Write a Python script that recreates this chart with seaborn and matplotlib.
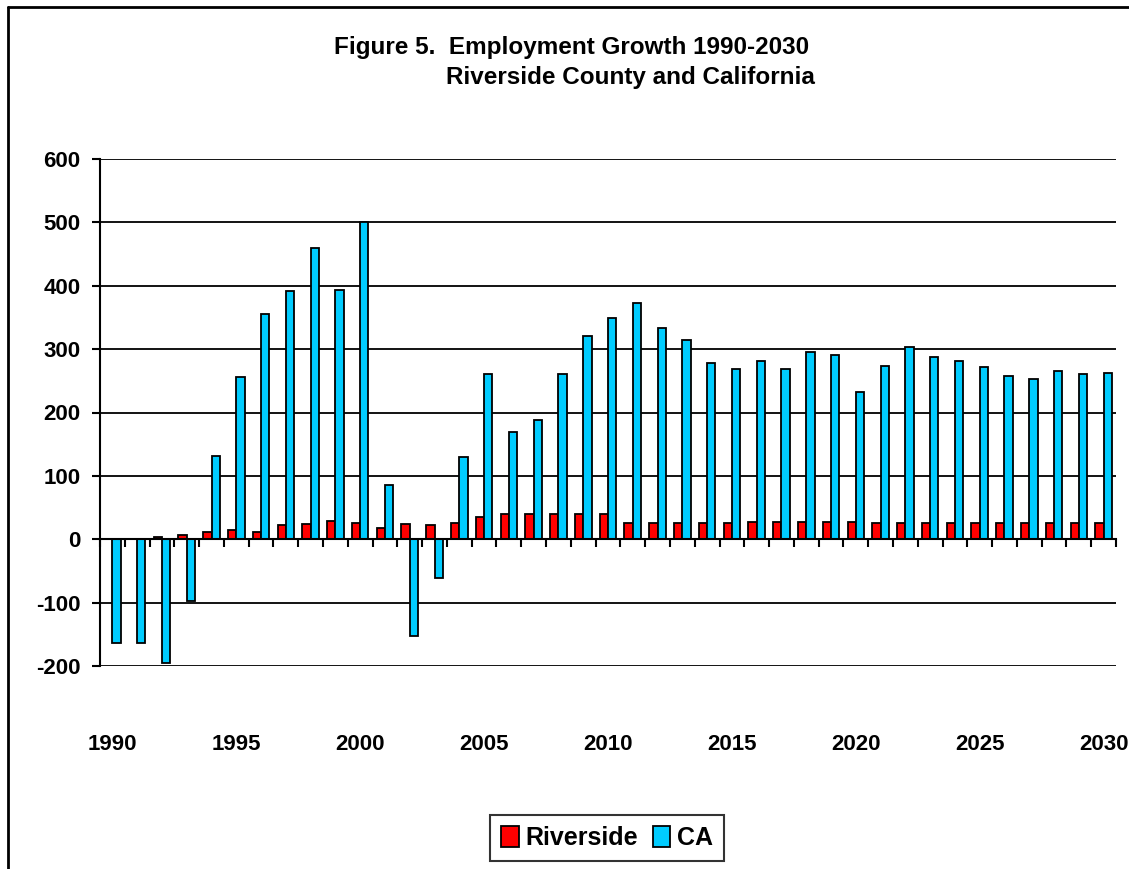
import matplotlib
matplotlib.use("Agg")
import matplotlib.pyplot as plt
from matplotlib.lines import Line2D
from matplotlib.patches import Patch
import matplotlib.transforms as mtransforms
import numpy as np
import pandas as pd
import seaborn as sns

# Annual employment change (thousands of jobs)
years = [str(y) for y in range(1990, 2031)]
riverside = [1, 1, 3, 7, 11, 14, 12, 23, 24, 29, 25, 18, 24, 22,
             26, 35, 40, 40, 40, 40, 40, 26, 26, 26, 26, 26, 27,
             27, 27, 27, 27, 26, 26, 26, 26, 26, 26, 26, 26, 26, 26]
ca = [-163, -163, -196, -98, 132, 256, 356, 391, 460, 394, 501, 85, -152, -61,
      130, 261, 169, 188, 260, 320, 349, 373, 333, 314, 278, 269, 281,
      269, 295, 290, 233, 273, 304, 287, 282, 272, 258, 253, 265, 261, 263]
series_names = ["Riverside", "CA"]
series_colors = ["#FF0000", "#00CCFF"]
year_labels = ["1990", "1995", "2000", "2005", "2010", "2015", "2020", "2025", "2030"]
y_ticks = [-200, -100, 0, 100, 200, 300, 400, 500, 600]
title_lines = ["Figure 5.  Employment Growth 1990-2030", "Riverside County and California"]

df = pd.DataFrame({
    "year": years * 2,
    "value": riverside + ca,
    "series": [series_names[0]] * len(years) + [series_names[1]] * len(years),
})

sns.set_theme(style="white")
plt.rcParams["font.family"] = ["Liberation Sans", "DejaVu Sans"]
plt.rcParams["font.weight"] = "bold"
plt.rcParams["text.color"] = "black"
plt.rcParams["xtick.color"] = "black"
plt.rcParams["ytick.color"] = "black"

W, H = 1129, 869
fig = plt.figure(figsize=(W / 100, H / 100), dpi=100)
ax = fig.add_axes([100 / W, 1 - 666 / H, (1116 - 100) / W, (666 - 159) / H])

sns.barplot(data=df, x="year", y="value", hue="series", order=years,
            hue_order=series_names, palette=series_colors, width=0.67,
            edgecolor="black", linewidth=1.3, saturation=1, legend=False, ax=ax)

ax.set_xlim(-0.5, len(years) - 0.5)
ax.set_ylim(y_ticks[0], y_ticks[-1])
ax.set_xlabel("")
ax.set_ylabel("")

# Horizontal gridlines
for v in y_ticks:
    ax.axhline(v, color="black", linewidth=1.3, zorder=0.5)

# Spines: left value axis, category axis crossing at zero
for side in ["top", "right"]:
    ax.spines[side].set_visible(False)
ax.spines["left"].set_color("black")
ax.spines["left"].set_linewidth(1.5)
ax.spines["bottom"].set_position(("data", 0))
ax.spines["bottom"].set_color("black")
ax.spines["bottom"].set_linewidth(1.5)

ax.set_yticks(y_ticks)
ax.set_yticklabels([str(v) for v in y_ticks], fontsize=16, fontweight="bold", color="black")
ax.tick_params(axis="y", direction="out", length=6, width=1.5, color="black", pad=8, left=True)

# Category boundary ticks on the zero line
ax.set_xticks(np.arange(len(years) + 1) - 0.5)
ax.set_xticklabels([])
ax.tick_params(axis="x", direction="out", length=6, width=1.5, color="black", bottom=True)

# Year labels below the plot area
trans = mtransforms.blended_transform_factory(ax.transData, ax.transAxes)
for lab in year_labels:
    ax.text(years.index(lab), -0.155, lab, transform=trans, ha="center", va="center",
            fontsize=16, fontweight="bold", color="black")

# Title
fig.text(809 / W, 1 - 54 / H, title_lines[0], ha="right", va="baseline", fontsize=17.5,
         fontweight="bold", color="black")
fig.text(815 / W, 1 - 84 / H, title_lines[1], ha="right", va="baseline", fontsize=17.5,
         fontweight="bold", color="black")

# Legend
handles = [Patch(facecolor=c, edgecolor="black", linewidth=1.3) for c in series_colors]
leg = fig.legend(handles, series_names, loc="center", bbox_to_anchor=(607 / W, 1 - 838 / H),
                 ncol=2, frameon=True, fancybox=False, handlelength=0.7, handleheight=0.9,
                 handletextpad=0.25, columnspacing=0.6, borderpad=0.45,
                 prop={"size": 18, "weight": "bold"})
leg.get_frame().set_edgecolor("black")
leg.get_frame().set_linewidth(1.5)
for t in leg.get_texts():
    t.set_color("black")

# Chart border
fig.add_artist(Line2D([8 / W, 8 / W], [0, 1 - 7 / H], transform=fig.transFigure, color="black", linewidth=2))
fig.add_artist(Line2D([8 / W, 1], [1 - 7 / H, 1 - 7 / H], transform=fig.transFigure, color="black", linewidth=2))

fig.savefig("out.png", dpi=100, facecolor="white")
